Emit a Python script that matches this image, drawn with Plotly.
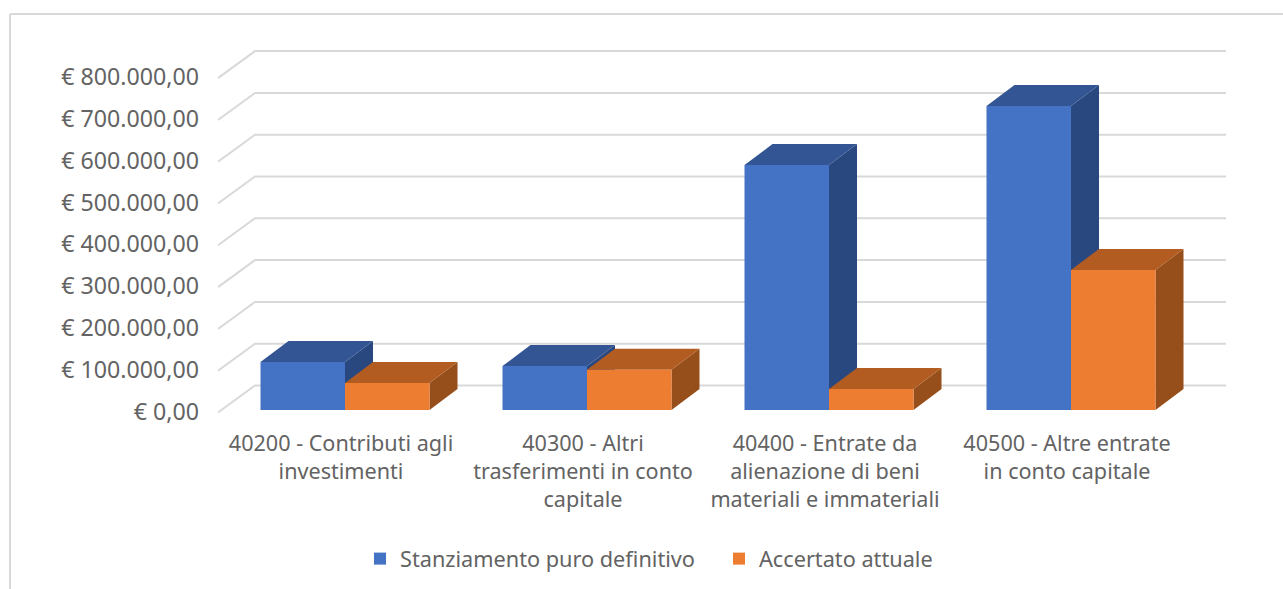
import plotly.graph_objects as go

categories = [
    "40200 - Contributi agli<br>investimenti",
    "40300 - Altri<br>trasferimenti in conto<br>capitale",
    "40400 - Entrate da<br>alienazione di beni<br>materiali e immateriali",
    "40500 - Altre entrate<br>in conto capitale",
]
stanziamento = [115000, 105000, 586000, 727000]
accertato = [64500, 96000, 50000, 335000]
tick_values = [0, 100000, 200000, 300000, 400000, 500000, 600000, 700000, 800000]
tick_labels = ["€ 0,00", "€ 100.000,00", "€ 200.000,00", "€ 300.000,00", "€ 400.000,00",
               "€ 500.000,00", "€ 600.000,00", "€ 700.000,00", "€ 800.000,00"]

FONT = "Noto Sans"
TEXT = "#636363"
W, H = 1283, 589
L, R, T, B = 218, 1226, 40, 420      # plot area, pixels
CX0, CAT = 345, 242                  # first group's centre, group spacing
Y0, SCALE = 410, 41.8 / 100000       # zero line, pixels per euro


def dx(px):
    return px / CAT


def dy(px):
    return px / SCALE


xr = [(L - CX0) / CAT, (R - CX0) / CAT]
yr = [-(B - Y0) / 41.8 * 100000, (Y0 - T) / 41.8 * 100000]
bw, ddx, ddy = dx(84.5), dx(28), dy(21)
positions = list(range(len(categories)))

fig = go.Figure()

# back wall gridlines
gx, gy = [], []
for t in tick_values:
    gx += [xr[0], xr[0] + dx(37), xr[1], None]
    gy += [t - dy(2.5), t + dy(24.5), t + dy(24.5), None]
fig.add_trace(go.Scatter(x=gx, y=gy, mode="lines", line=dict(color="#D9D9D9", width=2),
                         showlegend=False, hoverinfo="skip"))


def faces(values, shift, side_col, top_col):
    sx, sy, tx, ty = [], [], [], []
    for p, v in zip(positions, values):
        l = p + shift
        r = l + bw
        sx += [r, r, r + ddx, r + ddx, r, None]
        sy += [0, v, v + ddy, ddy, 0, None]
        tx += [l, r, r + ddx, l + ddx, l, None]
        ty += [v, v, v + ddy, v + ddy, v, None]
    for xs, ys, c in ((sx, sy, side_col), (tx, ty, top_col)):
        fig.add_trace(go.Scatter(x=xs, y=ys, mode="lines", fill="toself", fillcolor=c,
                                 line=dict(width=0, color=c, simplify=False),
                                 showlegend=False, hoverinfo="skip"))


faces(stanziamento, -bw, "#2A4880", "#335593")
faces(accertato, 0, "#964F1B", "#B35C21")

# front faces, on an overlaying copy of the axes so they sit above the depth faces
fig.add_trace(go.Bar(x=[p - bw / 2 for p in positions], y=stanziamento, width=bw,
                     name="Stanziamento puro definitivo", marker=dict(color="#4472C4", line_width=0),
                     xaxis="x2", yaxis="y2"))
fig.add_trace(go.Bar(x=[p + bw / 2 for p in positions], y=accertato, width=bw,
                     name="Accertato attuale", marker=dict(color="#ED7D31", line_width=0),
                     xaxis="x2", yaxis="y2"))


def paper_x(px):
    return (px - L) / (R - L)


def paper_y(px):
    return (B - px) / (B - T)


fig.update_layout(
    width=W, height=H, margin=dict(l=L, r=W - R, t=T, b=H - B, autoexpand=False),
    paper_bgcolor="white", plot_bgcolor="rgba(0,0,0,0)", barmode="overlay",
    font=dict(family=FONT, color=TEXT, size=22),
    xaxis=dict(range=xr, tickmode="array", tickvals=[p - dx(4) for p in positions], ticktext=categories,
               showgrid=False, zeroline=False, showline=False, ticks="", ticklabelstandoff=8,
               tickangle=0, tickfont=dict(size=21.6, family=FONT, color=TEXT)),
    yaxis=dict(range=yr, tickmode="array", tickvals=[t - dy(1.5) for t in tick_values], ticktext=tick_labels,
               showgrid=False, zeroline=False, showline=False, ticks="", ticklabelstandoff=18,
               tickfont=dict(size=23.2, family=FONT, color=TEXT)),
    xaxis2=dict(range=xr, overlaying="x", visible=False),
    yaxis2=dict(range=yr, overlaying="y", visible=False),
    legend=dict(orientation="h", x=paper_x(360), y=paper_y(538), xanchor="left", yanchor="top",
                entrywidth=314, entrywidthmode="pixels",
                font=dict(size=21.7, family=FONT, color=TEXT), bgcolor="rgba(0,0,0,0)"),
    shapes=[
        dict(type="line", xref="paper", yref="paper", x0=paper_x(10), x1=paper_x(W), y0=paper_y(14), y1=paper_y(14),
             line=dict(color="#D9D9D9", width=2)),
        dict(type="line", xref="paper", yref="paper", x0=paper_x(10), x1=paper_x(10), y0=paper_y(14), y1=paper_y(H),
             line=dict(color="#D9D9D9", width=2)),
    ],
)

fig.write_html("out.html", config={"displayModeBar": False},
               post_script="document.body.style.margin='0';")
